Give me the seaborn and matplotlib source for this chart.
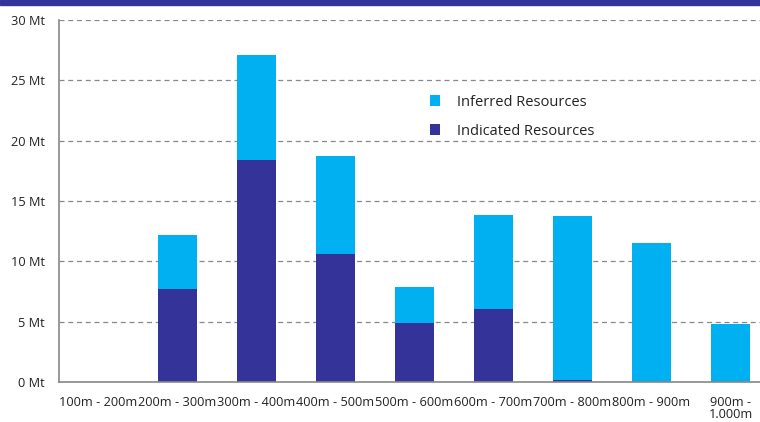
import matplotlib
matplotlib.use("Agg")
import matplotlib.pyplot as plt
from matplotlib.patches import Rectangle
import seaborn as sns
import pandas as pd
import numpy as np

depths = ["100m - 200m", "200m - 300m", "300m - 400m", "400m - 500m", "500m - 600m",
          "600m - 700m", "700m - 800m", "800m - 900m", "900m -\n1.000m"]
indicated = [0.0, 7.7, 18.4, 10.6, 4.9, 6.05, 0.17, 0.0, 0.0]
inferred = [0.0, 4.5, 8.7, 8.1, 3.0, 7.8, 13.58, 11.55, 4.83]
y_ticks = [0, 5, 10, 15, 20, 25, 30]

c_inf = "#00B0F0"
c_ind = "#333399"

df = pd.DataFrame({"depth": depths, "indicated": indicated, "inferred": inferred})
df["total"] = df["indicated"] + df["inferred"]

sns.set_style("white")
plt.rcParams["font.family"] = ["Open Sans", "DejaVu Sans"]

fig = plt.figure(figsize=(7.6, 4.22), dpi=100)
ax = fig.add_axes([59 / 760, 40 / 422, 711 / 760, 362 / 422])

sns.barplot(data=df, x="depth", y="total", color=c_inf, width=0.5,
            saturation=1, ax=ax, label="Inferred Resources", edgecolor="none")
sns.barplot(data=df, x="depth", y="indicated", color=c_ind, width=0.5,
            saturation=1, ax=ax, label="Indicated Resources", edgecolor="none")

ax.set_ylim(0, 30)
ax.set_xlim(-0.5, len(depths) - 0.5)
ax.set_yticks(y_ticks)
ax.set_yticklabels([f"{v} Mt" for v in y_ticks], fontsize=9.2, color="#222222")
ax.set_xticks(range(len(depths)))
ax.set_xticklabels(depths, fontsize=9.2, color="#222222", linespacing=0.95)
ax.set_xticks(np.arange(-0.5, len(depths), 1), minor=True)
ax.tick_params(axis="x", which="major", length=0, pad=10)
ax.tick_params(axis="x", which="minor", length=5, width=1, color="#888888", direction="out")
ax.tick_params(axis="y", length=4, width=1, color="#888888", direction="out", pad=6)
ax.set_xlabel("")
ax.set_ylabel("")

ax.yaxis.grid(True, linestyle=(0, (4, 3)), color="#888888", linewidth=0.9)
ax.set_axisbelow(True)
for s in ["top", "right"]:
    ax.spines[s].set_visible(False)
for s in ["left", "bottom"]:
    ax.spines[s].set_color("#888888")
    ax.spines[s].set_linewidth(1.2)

handles, labels = ax.get_legend_handles_labels()
leg = ax.legend(handles, labels, loc="upper left", bbox_to_anchor=(0.503, 0.83),
                frameon=False, fontsize=10.5, handlelength=0.7, handleheight=0.7,
                handletextpad=1.2, labelspacing=0.95, prop={"size": 10.5})
for t in leg.get_texts():
    t.set_color("#222222")

fig.patches.append(Rectangle((0, 1 - 5 / 422), 1, 5 / 422, transform=fig.transFigure,
                             color=c_ind, zorder=10))

fig.savefig("out.png", dpi=100)
